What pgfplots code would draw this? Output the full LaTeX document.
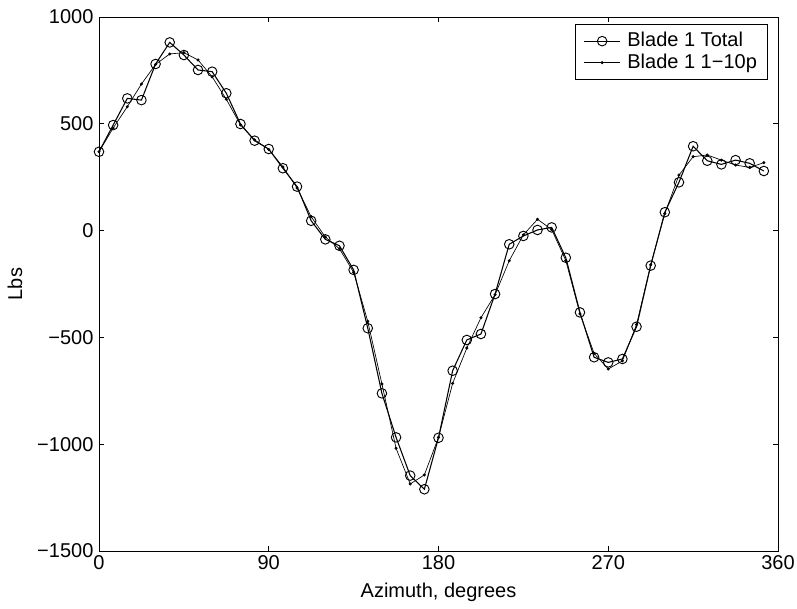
\documentclass[border=0pt]{standalone}
\usepackage{fontspec}
\setmainfont{Liberation Sans}
\usepackage{pgfplots}
\pgfplotsset{compat=1.18}
\begin{document}
\fontsize{15}{18}\selectfont
\begin{tikzpicture}
\useasboundingbox (-74.25pt,-42.75pt) rectangle (523.5pt,413.25pt);
\begin{axis}[
 at={(0,0)}, anchor=south west,
 scale only axis, width=509.25pt, height=400.5pt,
 xmin=0, xmax=360, ymin=-1500, ymax=1000,
 xtick={0,90,180,270,360},
 xticklabels={0,90,180,270,360},
 ytick={-1500,-1000,-500,0,500,1000},
 yticklabels={−1500,−1000,−500,0,500,1000},
 xticklabel style={yshift=1.5pt},
 yticklabel style={xshift=1pt},
 tick align=inside, major tick length=4pt,
 axis line style={line width=0.6pt},
 every tick/.style={black, line width=0.5pt},
 xlabel={Azimuth, degrees}, ylabel={Lbs},
 xlabel style={at={(axis description cs:0.5,-0.0765)}, anchor=center},
 ylabel style={at={(axis description cs:-0.1237,0.5)}, anchor=center},
 legend style={at={(axis description cs:1,1)}, anchor=north east, xshift=-7.5pt, yshift=-5.25pt,
   draw=black, line width=0.6pt, inner xsep=6pt, inner ysep=4pt, row sep=-1pt, cells={anchor=west},
   /tikz/every odd column/.append style={column sep=3pt}},
 legend image code/.code={\draw[mark repeat=2,mark phase=2] plot coordinates {(0pt,0pt) (13.5pt,0pt) (27pt,0pt)};},
]
\addplot[black, line width=0.8pt, mark=o, mark size=3.6pt, mark options={line width=0.7pt}] coordinates {
(0,369) (7.5,494) (15,619) (22.5,611) (30,780) (37.5,881) (45,822) (52.5,752)
(60,744) (67.5,643) (75,499) (82.5,421) (90,382) (97.5,292) (105,206) (112.5,46)
(120,-41) (127.5,-71) (135,-184) (142.5,-457) (150,-762) (157.5,-968) (165,-1147) (172.5,-1211)
(180,-970) (187.5,-656) (195,-512) (202.5,-484) (210,-297) (217.5,-64) (225,-25) (232.5,3)
(240,15) (247.5,-127) (255,-383) (262.5,-593) (270,-617) (277.5,-601) (285,-450) (292.5,-164)
(300,86) (307.5,226) (315,395) (322.5,327) (330,310) (337.5,330) (345,315) (352.5,279)
};
\addlegendentry{Blade 1 Total}
\addplot[black, line width=0.5pt, mark=*, mark size=0.9pt] coordinates {
(0,369) (7.5,480) (15,580) (22.5,686) (30,778) (37.5,827) (45,833) (52.5,799)
(60,720) (67.5,615) (75,495) (82.5,425) (90,380) (97.5,298) (105,200) (112.5,65)
(120,-30) (127.5,-85) (135,-195) (142.5,-425) (150,-718) (157.5,-1019) (165,-1186) (172.5,-1144)
(180,-968) (187.5,-715) (195,-550) (202.5,-408) (210,-300) (217.5,-141) (225,-20) (232.5,53)
(240,5) (247.5,-140) (255,-390) (262.5,-575) (270,-648) (277.5,-610) (285,-440) (292.5,-160)
(300,80) (307.5,260) (315,346) (322.5,354) (330,330) (337.5,307) (345,296) (352.5,318)
};
\addlegendentry{Blade 1 1−10p}
\end{axis}
\end{tikzpicture}
\end{document}
